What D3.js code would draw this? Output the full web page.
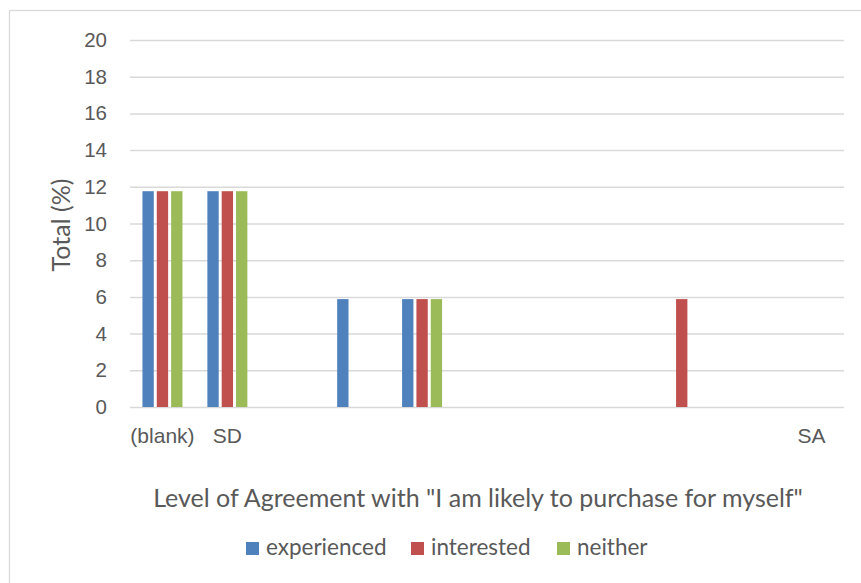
<!DOCTYPE html>
<html>
<head>
<meta charset="utf-8">
<script src="https://cdn.jsdelivr.net/npm/d3@7"></script>
<style>
  html, body { margin: 0; padding: 0; background: #fff; }
  svg { display: block; font-family: Lato, "Open Sans", sans-serif; }
</style>
</head>
<body>
<svg id="chart" width="861" height="583"></svg>
<script>
// Category labels along the x axis (only a few are shown)
const categoryLabels = ["(blank)", "SD", "", "", "", "", "", "", "", "", "SA"];
const seriesNames = ["experienced", "interested", "neither"];
const experienced = [11.76, 11.76, 0, 5.88, 5.88, 0, 0, 0, 0, 0, 0];
const interested  = [11.76, 11.76, 0, 0, 5.88, 0, 0, 0, 5.88, 0, 0];
const neither     = [11.76, 11.76, 0, 0, 5.88, 0, 0, 0, 0, 0, 0];
const yTicks = [0, 2, 4, 6, 8, 10, 12, 14, 16, 18, 20];
const colors = ["#4F81BD", "#C0504D", "#9BBB59"];

const seriesValues = [experienced, interested, neither];
const textColor = "#595959";
const gridColor = "#D9D9D9";

const svg = d3.select("#chart");
const plot = { left: 130, right: 844, top: 40, bottom: 407 };

// Outer chart frame
svg.append("rect")
  .attr("x", 9.5).attr("y", 10.5)
  .attr("width", 900).attr("height", 700)
  .attr("fill", "#fff")
  .attr("stroke", "#D9D9D9").attr("stroke-width", 1.3);

const idx = categoryLabels.map((_, i) => i);
const x0 = d3.scaleBand().domain(idx).range([plot.left, plot.right]).padding(0);
const groupW = 40;
const x1 = d3.scaleBand().domain(seriesNames)
  .range([0, groupW]).paddingInner(0.21).paddingOuter(0);
const y = d3.scaleLinear().domain([0, 20]).range([plot.bottom, plot.top]);

// Y axis with gridlines
const yAxis = svg.append("g")
  .attr("transform", `translate(${plot.left},0)`)
  .call(d3.axisLeft(y).tickValues(yTicks)
    .tickSizeInner(-(plot.right - plot.left)).tickSizeOuter(0).tickPadding(23));
yAxis.select(".domain").remove();
yAxis.selectAll(".tick line").attr("stroke", gridColor).attr("stroke-width", 1.5);
yAxis.selectAll(".tick text")
  .attr("fill", textColor).style("font-size", "20.5px");

// Bars
const groups = svg.append("g").selectAll("g")
  .data(idx).join("g")
  .attr("transform", i => `translate(${x0(i) + (x0.bandwidth() - groupW) / 2},0)`);

groups.selectAll("rect")
  .data(i => seriesNames.map((name, s) => ({ name, s, v: seriesValues[s][i] })).filter(d => d.v > 0))
  .join("rect")
  .attr("x", d => x1(d.name))
  .attr("width", x1.bandwidth())
  .attr("y", d => y(d.v))
  .attr("height", d => y(0) - y(d.v))
  .attr("fill", d => colors[d.s]);

// X axis labels
const xAxis = svg.append("g")
  .attr("transform", `translate(0,${plot.bottom})`)
  .call(d3.axisBottom(x0).tickFormat(i => categoryLabels[i]).tickSize(0).tickPadding(21));
xAxis.select(".domain").remove();
xAxis.selectAll(".tick text")
  .attr("fill", textColor).style("font-size", "21px");

// Axis titles
svg.append("text")
  .attr("transform", "translate(70,225) rotate(-90)")
  .attr("text-anchor", "middle")
  .attr("fill", textColor).style("font-size", "25px")
  .text("Total (%)");

svg.append("text")
  .attr("x", 478).attr("y", 507)
  .attr("text-anchor", "middle")
  .attr("fill", textColor).style("font-size", "25px")
  .text('Level of Agreement with "I am likely to purchase for myself"');

// Legend
const legendX = [246, 411, 557];
const legend = svg.append("g").selectAll("g")
  .data(seriesNames).join("g")
  .attr("transform", (d, i) => `translate(${legendX[i]},542)`);
legend.append("rect")
  .attr("width", 13).attr("height", 13)
  .attr("fill", (d, i) => colors[i]);
legend.append("text")
  .attr("x", 20).attr("y", 13)
  .attr("fill", textColor).style("font-size", "22.5px")
  .text(d => d);
</script>
</body>
</html>
